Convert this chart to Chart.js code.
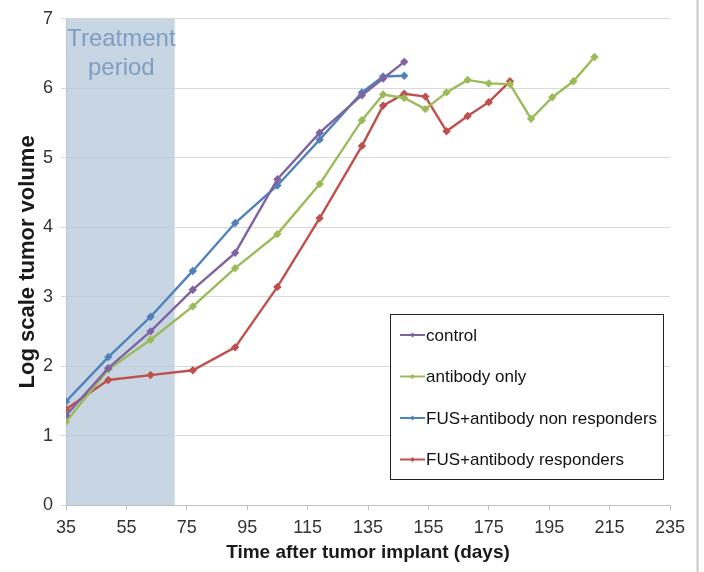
<!DOCTYPE html>
<html>
<head>
<meta charset="utf-8">
<script src="https://cdn.jsdelivr.net/npm/chart.js@4"></script>
<style>
  html, body { margin: 0; padding: 0; background: #fff; }
  #wrap { position: relative; width: 704px; height: 572px; }
</style>
</head>
<body>
<div id="wrap"><canvas id="tumor_chart" width="704" height="572"></canvas></div>
<script>
// Days after implant for each series
const controlDays = [35, 49, 63, 77, 91, 105, 119, 133, 140, 147];
const antibodyDays = [35, 49, 63, 77, 91, 105, 119, 133, 140, 147, 154, 161, 168, 175, 182, 189, 196, 203, 210];
const nonRespDays = [35, 49, 63, 77, 91, 105, 119, 133, 140, 147];
const respDays = [35, 49, 63, 77, 91, 105, 119, 133, 140, 147, 154, 161, 168, 175, 182];

// Log scale tumor volume
const controlVals = [1.29, 1.97, 2.50, 3.10, 3.63, 4.69, 5.36, 5.90, 6.14, 6.38];
const antibodyVals = [1.20, 1.95, 2.38, 2.86, 3.41, 3.90, 4.62, 5.54, 5.91, 5.86, 5.70, 5.94, 6.12, 6.07, 6.06, 5.56, 5.87, 6.10, 6.45];
const nonRespVals = [1.49, 2.13, 2.71, 3.37, 4.06, 4.60, 5.26, 5.94, 6.17, 6.18];
const respVals = [1.38, 1.80, 1.87, 1.94, 2.27, 3.14, 4.13, 5.17, 5.75, 5.92, 5.88, 5.38, 5.60, 5.80, 6.10];

const xTicks = [35, 55, 75, 95, 115, 135, 155, 175, 195, 215, 235];
const yTicks = [0, 1, 2, 3, 4, 5, 6, 7];
const treatmentPeriod = [35, 71];

const FONT = '"Liberation Sans", Arial, sans-serif';

function toPoints(xs, ys) {
    return xs.map(function (x, i) { return { x: x, y: ys[i] }; });
}

const series = [
    { label: 'control', color: '#8064A2', data: toPoints(controlDays, controlVals) },
    { label: 'antibody only', color: '#9BBB59', data: toPoints(antibodyDays, antibodyVals) },
    { label: 'FUS+antibody non responders', color: '#4F81BD', data: toPoints(nonRespDays, nonRespVals) },
    { label: 'FUS+antibody responders', color: '#C0504D', data: toPoints(respDays, respVals) }
];

// Shaded treatment window with its caption
const treatmentBox = {
    id: 'treatmentBox',
    beforeDatasetsDraw(chart) {
        const ctx = chart.ctx;
        const xs = chart.scales.x, area = chart.chartArea;
        const x0 = xs.getPixelForValue(treatmentPeriod[0]);
        const x1 = xs.getPixelForValue(treatmentPeriod[1]);
        ctx.save();
        ctx.fillStyle = 'rgba(185, 203, 219, 0.78)';
        ctx.fillRect(x0, area.top, x1 - x0, area.bottom - area.top);
        ctx.fillStyle = '#7f9ec3';
        ctx.font = '24px ' + FONT;
        ctx.textAlign = 'center';
        ctx.textBaseline = 'middle';
        ctx.fillText('Treatment', (x0 + x1) / 2 + 1, 39);
        ctx.fillText('period', (x0 + x1) / 2 + 1, 68);
        ctx.restore();
    }
};

// Boxed legend inside the plot, plus the thin frame line on the right
const boxLegend = {
    id: 'boxLegend',
    afterDraw(chart) {
        const ctx = chart.ctx;
        ctx.save();
        ctx.fillStyle = '#fff';
        ctx.fillRect(390, 314, 273, 165);
        ctx.strokeStyle = '#222';
        ctx.lineWidth = 1;
        ctx.strokeRect(390.5, 314.5, 273, 165);
        ctx.font = '17px ' + FONT;
        ctx.textBaseline = 'middle';
        series.forEach(function (s, i) {
            const y = 335 + i * 41.5;
            ctx.strokeStyle = s.color;
            ctx.lineWidth = 2;
            ctx.beginPath();
            ctx.moveTo(400, y);
            ctx.lineTo(425, y);
            ctx.stroke();
            ctx.fillStyle = s.color;
            ctx.beginPath();
            ctx.moveTo(412.5, y - 2.5);
            ctx.lineTo(415, y);
            ctx.lineTo(412.5, y + 2.5);
            ctx.lineTo(410, y);
            ctx.closePath();
            ctx.fill();
            ctx.fillStyle = '#111';
            ctx.fillText(s.label, 426, y + 1);
        });
        ctx.strokeStyle = '#c8c8c8';
        ctx.beginPath();
        ctx.moveTo(697.5, 0);
        ctx.lineTo(697.5, 572);
        ctx.stroke();
        ctx.restore();
    }
};

new Chart(document.getElementById('tumor_chart'), {
    type: 'scatter',
    data: {
        datasets: series.map(function (s) {
            return {
                label: s.label,
                data: s.data,
                showLine: true,
                borderColor: s.color,
                backgroundColor: s.color,
                borderWidth: 2.4,
                pointStyle: 'rectRot',
                pointRadius: 2.5,
                pointHoverRadius: 2.5,
                tension: 0
            };
        })
    },
    options: {
        responsive: false,
        animation: false,
        layout: { padding: { top: 16, right: 34, left: 0, bottom: 0 } },
        plugins: {
            legend: { display: false },
            tooltip: { enabled: false }
        },
        scales: {
            x: {
                type: 'linear',
                min: 35,
                max: 235,
                afterBuildTicks(scale) { scale.ticks = xTicks.map(function (v) { return { value: v }; }); },
                afterFit(scale) { scale.height = 67; },
                grid: { drawOnChartArea: false, drawTicks: true, tickLength: 5, color: '#bfbfbf' },
                border: { color: '#bfbfbf' },
                ticks: { color: '#333', font: { family: FONT, size: 18 }, padding: 7, maxRotation: 0 },
                title: {
                    display: true,
                    text: 'Time after tumor implant (days)',
                    color: '#1a1a1a',
                    font: { family: FONT, size: 19, weight: 'bold' },
                    padding: { top: 2, bottom: 8 }
                }
            },
            y: {
                min: 0,
                max: 7,
                afterBuildTicks(scale) { scale.ticks = yTicks.map(function (v) { return { value: v }; }); },
                afterFit(scale) { scale.width = 66; },
                grid: { color: '#d9d9d9', tickLength: 5, lineWidth: 1 },
                border: { color: '#bfbfbf' },
                ticks: { color: '#333', font: { family: FONT, size: 18 }, padding: 8 },
                title: {
                    display: true,
                    text: 'Log scale tumor volume',
                    color: '#1a1a1a',
                    font: { family: FONT, size: 22, weight: 'bold' },
                    padding: { top: 15, bottom: 0 }
                }
            }
        }
    },
    plugins: [treatmentBox, boxLegend]
});
</script>
</body>
</html>
